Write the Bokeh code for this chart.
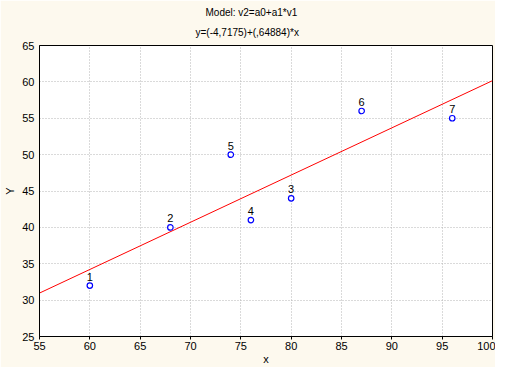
from bokeh.plotting import figure
from bokeh.models import Range1d, Title, FixedTicker, ColumnDataSource
from bokeh.embed import file_html
from bokeh.resources import INLINE

# data
point_ids = ["1", "2", "3", "4", "5", "6", "7"]
x_vals = [60, 68, 80, 76, 74, 87, 96]
y_vals = [32, 40, 44, 41, 50, 56, 55]
intercept = -4.7175
slope = 0.64884
x_ticks = [55, 60, 65, 70, 75, 80, 85, 90, 95, 100]
y_ticks = [25, 30, 35, 40, 45, 50, 55, 60, 65]
title_line1 = "Model: v2=a0+a1*v1"
title_line2 = "y=(-4,7175)+(,64884)*x"

FONT = "Liberation Sans"
BG = "#fdf9ee"

p = figure(width=495, height=367, output_backend="svg", toolbar_location=None,
           x_range=Range1d(55, 100), y_range=Range1d(25, 65),
           min_border_left=39, min_border_right=3, min_border_top=45, min_border_bottom=31)
p.border_fill_color = BG
p.background_fill_color = "white"
p.outline_line_color = "black"
p.outline_line_width = 1

# regression line
line_x = [x_ticks[0], x_ticks[-1]]
line_y = [intercept + slope * v for v in line_x]
p.line(line_x, line_y, line_color="red", line_width=1)

src = ColumnDataSource(dict(x=x_vals, y=y_vals, t=point_ids))
p.scatter("x", "y", source=src, size=5.5, marker="circle", fill_color="white",
          line_color="#0000ff", line_width=1.2)
p.text("x", "y", text="t", source=src, text_align="center", text_baseline="middle",
       y_offset=-9, text_font_size="11px", text_color="black",
       text_font={"value": FONT})

for ax in (p.xaxis[0], p.yaxis[0]):
    ax.major_label_text_font = FONT
    ax.major_label_text_font_size = "11px"
    ax.major_label_text_color = "black"
    ax.axis_label_text_font = FONT
    ax.axis_label_text_font_size = "11px"
    ax.axis_label_text_font_style = "normal"
    ax.axis_label_text_color = "black"
    ax.axis_line_color = "black"
    ax.major_tick_line_color = "black"
    ax.minor_tick_line_color = None
    ax.major_tick_in = 0

p.xaxis.ticker = FixedTicker(ticks=x_ticks)
p.yaxis.ticker = FixedTicker(ticks=y_ticks)
p.xaxis.major_tick_out = 3
p.yaxis.major_tick_out = 0
p.xaxis.major_label_standoff = 2
p.yaxis.major_label_standoff = 5
p.xaxis.axis_label = "x"
p.yaxis.axis_label = "Y"
p.xaxis.axis_label_standoff = 0
p.yaxis.axis_label_standoff = 3

p.grid.grid_line_color = "#b4b4b4"
p.grid.grid_line_dash = "1 2"
p.grid.grid_line_width = 1

# titles: first added sits closest to the frame
p.add_layout(Title(text=title_line2, align="left", offset=156, standoff=15,
                   text_font=FONT, text_font_size="10px", text_font_style="normal",
                   text_color="black"), "above")
p.add_layout(Title(text=title_line1, align="left", offset=166, standoff=0,
                   text_font=FONT, text_font_size="10px", text_font_style="normal",
                   text_color="black"), "above")

open("out.html", "w").write(file_html(p, INLINE))
